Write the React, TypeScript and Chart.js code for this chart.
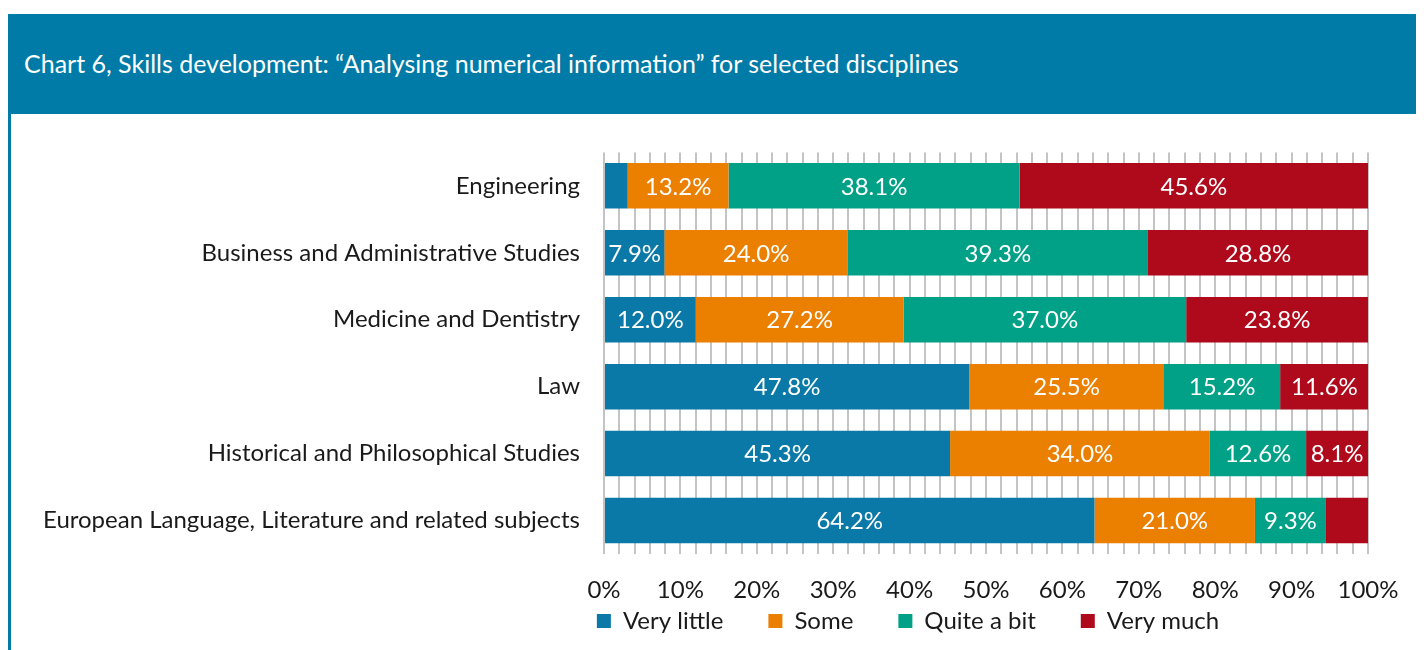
import React, { useEffect, useRef } from "react";
import { Chart, registerables } from "chart.js";

Chart.register(...registerables);

const categories = [
  "Engineering",
  "Business and Administrative Studies",
  "Medicine and Dentistry",
  "Law",
  "Historical and Philosophical Studies",
  "European Language, Literature and related subjects",
];
const seriesNames = ["Very little", "Some", "Quite a bit", "Very much"];
const veryLittle = [3.1, 7.9, 12.0, 47.8, 45.3, 64.2];
const some = [13.2, 24.0, 27.2, 25.5, 34.0, 21.0];
const quiteABit = [38.1, 39.3, 37.0, 15.2, 12.6, 9.3];
const veryMuch = [45.6, 28.8, 23.8, 11.6, 8.1, 5.5];
const seriesColors = ["#0b79a7", "#eb7f00", "#00a186", "#ae0a1b"];
const labelThreshold = 6;

const FONT = "Lato";
const FS = 24;

const segmentLabels = {
  id: "segmentLabels",
  afterDatasetsDraw(chart: any) {
    const ctx = chart.ctx;
    ctx.save();
    ctx.font = `${FS}px ${FONT}`;
    ctx.fillStyle = "#ffffff";
    ctx.textAlign = "center";
    ctx.textBaseline = "middle";
    chart.data.datasets.forEach((ds: any, i: number) => {
      const meta = chart.getDatasetMeta(i);
      meta.data.forEach((el: any, j: number) => {
        const v = ds.data[j];
        if (v < labelThreshold) return;
        const p = el.getProps(["x", "y", "base"], true);
        ctx.fillText(v.toFixed(1) + "%", (p.x + p.base) / 2, p.y + 1);
      });
    });
    ctx.restore();
  },
};

// place the legend row where the reference has it
const legendPlacer = {
  id: "legendPlacer",
  afterLayout(chart: any) {
    const lg = chart.legend;
    if (!lg) return;
    const targetCenterX = 897;
    const targetTop = 450;
    const dx = targetCenterX - (lg.left + lg.right) / 2;
    lg.left += dx;
    lg.right += dx;
    lg.top = targetTop;
    lg.bottom = targetTop + 100;
    lg.height = 100;
  },
};

export default function App() {
  const canvasRef = useRef<HTMLCanvasElement | null>(null);

  useEffect(() => {
    if (!canvasRef.current) return;
    const values = [veryLittle, some, quiteABit, veryMuch];
    const chart = new Chart(canvasRef.current, {
      type: "bar",
      data: {
        labels: categories,
        datasets: seriesNames.map((name, i) => ({
          label: name,
          data: values[i],
          backgroundColor: seriesColors[i],
          borderWidth: 0,
          barPercentage: 0.68,
          categoryPercentage: 1,
        })),
      },
      options: {
        indexAxis: "y",
        responsive: false,
        animation: false,
        layout: { padding: { top: 33, right: 56, bottom: 0, left: 0 } },
        scales: {
          x: {
            stacked: true,
            min: 0,
            max: 100,
            border: { display: false },
            grid: { color: "#c4c4c4", lineWidth: 2, drawTicks: false },
            ticks: {
              stepSize: 2,
              autoSkip: false,
              maxRotation: 0,
              padding: 22,
              color: "#1a1a1a",
              font: { family: FONT, size: FS },
              callback: (v: any) => {
                const n = Math.round(Number(v));
                return n % 10 === 0 ? n + "%" : "";
              },
            },
            afterFit: (scale: any) => {
              scale.height = 60;
            },
          },
          y: {
            stacked: true,
            border: { display: false },
            grid: { display: false, drawTicks: false },
            ticks: {
              padding: 24,
              color: "#1a1a1a",
              font: { family: FONT, size: FS },
            },
            afterFit: (scale: any) => {
              scale.width = 593;
            },
          },
        },
        plugins: {
          legend: {
            position: "bottom",
            maxHeight: 36,
            labels: {
              boxWidth: 14,
              boxHeight: 14,
              padding: 45,
              color: "#1a1a1a",
              font: { family: FONT, size: FS },
            },
          },
          tooltip: { enabled: false },
        },
      },
      plugins: [segmentLabels, legendPlacer],
    } as any);
    return () => chart.destroy();
  }, []);

  return (
    <div style={{ position: "relative", width: 1416, height: 642 }}>
      <div
        style={{
          position: "absolute",
          top: 6,
          left: 0,
          width: 1416,
          height: 100,
          background: "#007ba7",
          color: "#ffffff",
          fontFamily: FONT,
          fontSize: 25,
          lineHeight: "98px",
          paddingLeft: 16,
          boxSizing: "border-box",
        }}
      >
        Chart 6, Skills development: “Analysing numerical information” for selected disciplines
      </div>
      <div
        style={{
          position: "absolute",
          top: 106,
          left: 0,
          width: 3,
          height: 536,
          background: "#007ba7",
        }}
      />
      <canvas
        ref={canvasRef}
        width={1413}
        height={536}
        style={{ position: "absolute", top: 106, left: 3, width: 1413, height: 536 }}
      />
    </div>
  );
}
